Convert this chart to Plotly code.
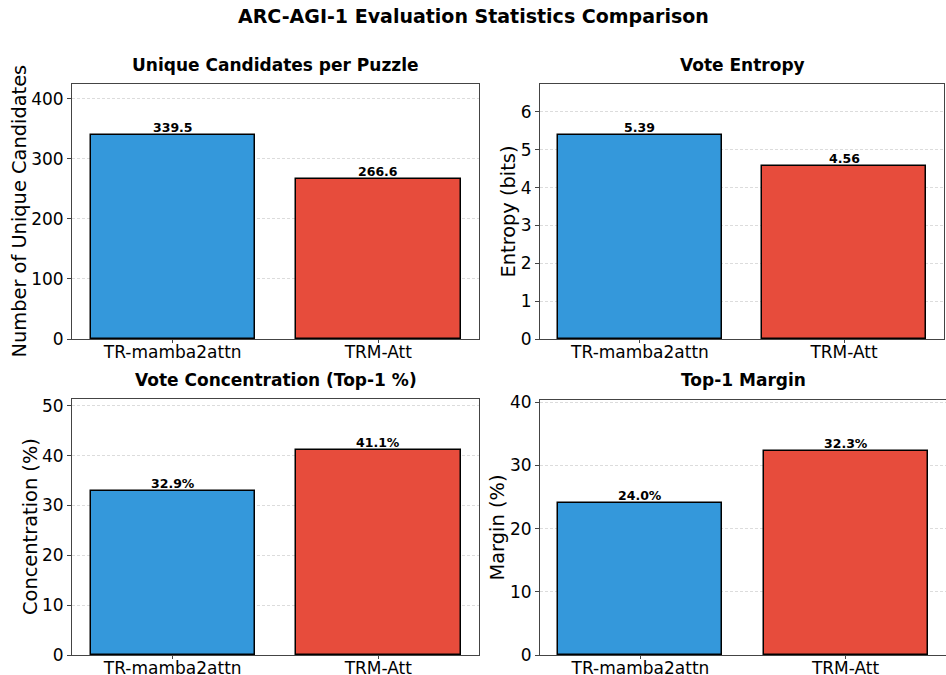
import plotly.graph_objects as go

models = ["TR-mamba2attn", "TRM-Att"]
colors = ["#3498db", "#e74c3c"]

unique_candidates = [339.5, 266.6]
vote_entropy = [5.39, 4.56]
top1_concentration = [32.9, 41.1]
top1_margin = [24.0, 32.3]

panel_titles = ["Unique Candidates per Puzzle", "Vote Entropy",
                "Vote Concentration (Top-1 %)", "Top-1 Margin"]
y_titles = ["Number of Unique Candidates", "Entropy (bits)",
            "Concentration (%)", "Margin (%)"]
label_fmt = ["{:.1f}", "{:.2f}", "{:.1f}%", "{:.1f}%"]
dticks = [100, 1, 10, 10]
series = [unique_candidates, vote_entropy, top1_concentration, top1_margin]

W, H = 946, 675
# pixel boxes (left, right, top, bottom)
boxes = [(72, 479, 84, 339), (540, 944, 84, 339),
         (72, 479, 399, 655), (540, 946, 400, 655)]
ylabel_x = [19, 508, 30, 497]
title_y = [65, 65, 380, 380]

FONT = "DejaVu Sans"
SPINE = "#444444"
fig = go.Figure()
annotations = []

for i, (vals, box) in enumerate(zip(series, boxes)):
    l, r, t, b = box
    xa = "x" if i == 0 else f"x{i+1}"
    ya = "y" if i == 0 else f"y{i+1}"
    fig.add_trace(go.Bar(
        x=[0, 1], y=vals, width=0.8,
        marker=dict(color=colors, line=dict(color="black", width=1.5)),
        xaxis=xa, yaxis=ya, showlegend=False, hoverinfo="skip",
    ))
    axkey = "" if i == 0 else str(i + 1)
    ymax = max(vals) * 1.25
    fig.layout["xaxis" + axkey] = dict(
        domain=[l / W, r / W], anchor=ya, range=[-0.49, 1.49],
        tickvals=[0, 1], ticktext=models, showgrid=False, zeroline=False,
        showline=True, mirror=True, linecolor=SPINE, linewidth=1,
        ticks="outside", ticklen=3, tickcolor=SPINE, automargin=False,
        ticklabelstandoff=-5,
        tickfont=dict(family=FONT, size=17, color="black"), fixedrange=True,
    )
    fig.layout["yaxis" + axkey] = dict(
        domain=[1 - b / H, 1 - t / H], anchor=xa, range=[0, ymax],
        dtick=dticks[i], showgrid=True, gridcolor="#dcdcdc",
        griddash="3px,2px", gridwidth=1, zeroline=False,
        showline=True, mirror=True, linecolor=SPINE, linewidth=1,
        ticks="outside", ticklen=4, tickcolor=SPINE, automargin=False,
        tickfont=dict(family=FONT, size=17, color="black"), fixedrange=True,
    )
    # subplot title
    annotations.append(dict(
        text=f"<b>{panel_titles[i]}</b>", x=(l + r) / 2 / W, y=1 - title_y[i] / H,
        xref="paper", yref="paper", showarrow=False, xanchor="center",
        yanchor="middle", font=dict(family=FONT, size=17, color="black")))
    # y label
    annotations.append(dict(
        text=y_titles[i], x=ylabel_x[i] / W, y=1 - (t + b) / 2 / H,
        xref="paper", yref="paper", showarrow=False, textangle=-90,
        xanchor="center", yanchor="middle",
        font=dict(family=FONT, size=19.4, color="black")))
    # value labels
    for j, v in enumerate(vals):
        annotations.append(dict(
            text=f"<b>{label_fmt[i].format(v)}</b>", x=j, y=v, xref=xa, yref=ya,
            showarrow=False, xanchor="center", yanchor="bottom", yshift=-2,
            font=dict(family=FONT, size=12.5, color="black")))

annotations.append(dict(
    text="<b>ARC-AGI-1 Evaluation Statistics Comparison</b>", x=0.5, y=1 - 16 / H,
    xref="paper", yref="paper", showarrow=False, xanchor="center", yanchor="middle",
    font=dict(family=FONT, size=19, color="black")))

fig.update_layout(
    width=W, height=H, margin=dict(l=0, r=0, t=0, b=0, autoexpand=False),
    paper_bgcolor="white", plot_bgcolor="white",
    annotations=annotations, bargap=0,
)

fig.write_html("out.html", config={"displayModeBar": False},
               post_script="document.body.style.margin='0';document.body.style.overflow='hidden';")
